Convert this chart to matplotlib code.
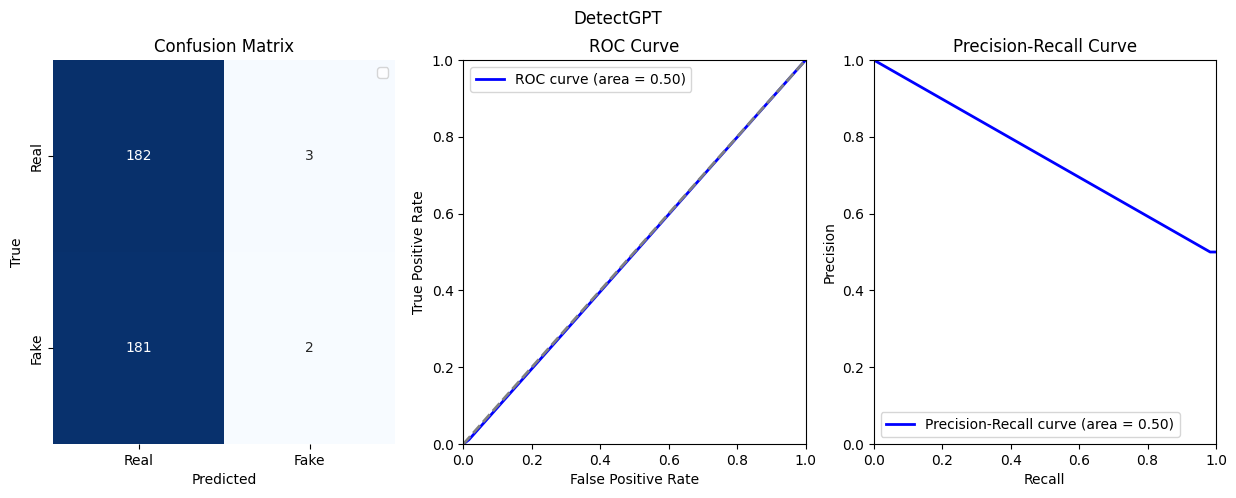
import numpy as np
import matplotlib
matplotlib.use("Agg")
import matplotlib.pyplot as plt
import seaborn as sns

labels = ["Real", "Fake"]
cm = np.array([[182, 3],
               [181, 2]])

fpr = [0.0, 0.016, 1.0]
tpr = [0.0, 0.011, 1.0]
roc_auc = 0.50

recall = [0.0, 0.983, 1.0]
precision = [1.0, 0.5, 0.5]
pr_auc = 0.50

fig, axes = plt.subplots(1, 3, figsize=(12.36, 4.98), dpi=100)
fig.subplots_adjust(left=0.0429, right=0.9838, top=0.8795, bottom=0.1084, wspace=0.199)
fig.suptitle("DetectGPT")

# confusion matrix
ax = axes[0]
sns.heatmap(cm, annot=True, fmt="d", cmap="Blues", cbar=False,
            xticklabels=labels, yticklabels=labels, ax=ax)
ax.set_yticklabels(labels, rotation=90, va="center")
ax.set_title("Confusion Matrix")
ax.set_xlabel("Predicted")
ax.set_ylabel("True")
ax.legend()

# roc
ax = axes[1]
ax.plot(fpr, tpr, color="blue", lw=2, label=f"ROC curve (area = {roc_auc:.2f})")
ax.plot([0, 1], [0, 1], color="gray", lw=2, linestyle="--")
ax.set_xlim(0, 1)
ax.set_ylim(0, 1)
ax.set_xlabel("False Positive Rate")
ax.set_ylabel("True Positive Rate")
ax.set_title("ROC Curve")
ax.legend(loc="upper left")

# precision-recall
ax = axes[2]
ax.plot(recall, precision, color="blue", lw=2,
        label=f"Precision-Recall curve (area = {pr_auc:.2f})")
ax.set_xlim(0, 1)
ax.set_ylim(0, 1)
ax.set_xlabel("Recall")
ax.set_ylabel("Precision")
ax.set_title("Precision-Recall Curve")
ax.legend(loc="lower left")

fig.savefig("out.png")
